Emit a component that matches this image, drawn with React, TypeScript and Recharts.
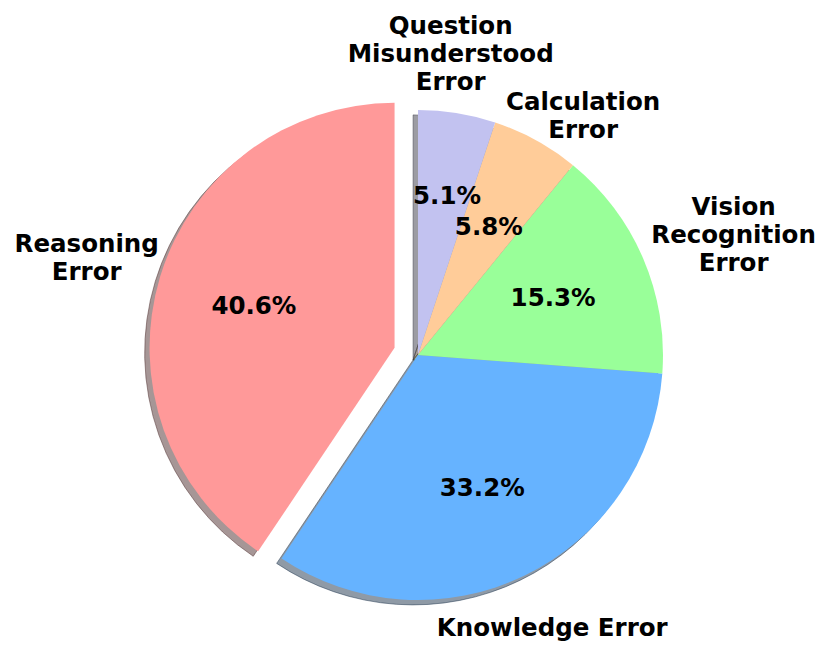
import React from 'react';
import { PieChart, Pie, Cell } from 'recharts';

// error categories, share of errors (%)
const CATEGORIES = [
  'Reasoning\nError',
  'Knowledge Error',
  'Vision\nRecognition\nError',
  'Calculation\nError',
  'Question\nMisunderstood\nError',
];
const SHARES = [40.6, 33.2, 15.3, 5.8, 5.1];
const COLORS = ['#ff9999', '#66b3ff', '#99ff99', '#ffcc99', '#c2c2f0'];
const EXPLODE = [0.1, 0, 0, 0, 0];

// label placement: distance (in radii) and angular nudge (deg)
const LABEL_DIST = [1.31, 1.24, 1.38, 1.19, 1.24];
const LABEL_SHIFT = [0.5, 0.3, -2.2, -5.7, 3.0];
const PCT_DIST = [0.6, 0.6, 0.6, 0.6, 0.664];
const PCT_SHIFT = [0, 0, 0, 0, -1.1];

const W = 831;
const H = 656;
const CX = 418;
const CY = 355;
const R = 245;
const START = 90;
const SHADOW = 0.02 * R;
const FONT = '"DejaVu Sans", sans-serif';
const FS = 24.5;
const RAD = Math.PI / 180;

const data = CATEGORIES.map((name, i) => ({ name, value: SHARES[i] }));
const total = SHARES.reduce((a, b) => a + b, 0);

// mid-angle of each wedge, used for the explode offset
const midAngles: number[] = [];
let acc = START;
SHARES.forEach((v) => {
  const sweep = (v / total) * 360;
  midAngles.push(acc + sweep / 2);
  acc += sweep;
});

const explodedIdx = EXPLODE.findIndex((e) => e > 0);
const exDx = EXPLODE[explodedIdx] * R * Math.cos(midAngles[explodedIdx] * RAD);
const exDy = -EXPLODE[explodedIdx] * R * Math.sin(midAngles[explodedIdx] * RAD);

const shade = (hex: string) => {
  const n = parseInt(hex.slice(1), 16);
  const r = Math.round(((n >> 16) & 255) * 0.3);
  const g = Math.round(((n >> 8) & 255) * 0.3);
  const b = Math.round((n & 255) * 0.3);
  return `rgb(${r},${g},${b})`;
};

const makeLabel = (onlyExploded: boolean) => (props: any) => {
  const { cx, cy, midAngle, outerRadius, index, percent } = props;
  if ((index === explodedIdx) !== onlyExploded) return null;
  const a = (midAngle + LABEL_SHIFT[index]) * RAD;
  const d = LABEL_DIST[index] * outerRadius;
  const lx = cx + d * Math.cos(a);
  const ly = cy - d * Math.sin(a);
  const lines = CATEGORIES[index].split('\n');
  const lh = 28;
  const half = (FS * 0.729) / 2;
  const firstY = ly - ((lines.length - 1) * lh) / 2 + half;

  const pa = (midAngle + PCT_SHIFT[index]) * RAD;
  const pd = PCT_DIST[index] * outerRadius;
  const px = cx + pd * Math.cos(pa);
  const py = cy - pd * Math.sin(pa);

  return (
    <g key={'lbl-' + index}>
      <text x={lx} y={firstY} textAnchor="middle" fontFamily={FONT} fontWeight="bold" fontSize={FS} fill="#000">
        {lines.map((l, i) => (
          <tspan key={i} x={lx} y={firstY + i * lh}>
            {l}
          </tspan>
        ))}
      </text>
      <text x={px} y={py + half} textAnchor="middle" fontFamily={FONT} fontWeight="bold" fontSize={FS} fill="#000">
        {(percent * 100).toFixed(1)}%
      </text>
    </g>
  );
};

export default function App() {
  return (
    <div style={{ position: 'absolute', left: 0, top: 0, width: W, height: H, background: '#fff' }}>
      <PieChart width={W} height={H} margin={{ top: 0, right: 0, bottom: 0, left: 0 }}>
        {/* shadows */}
        <Pie
          data={data}
          dataKey="value"
          cx={CX - SHADOW}
          cy={CY + SHADOW}
          outerRadius={R}
          startAngle={START}
          endAngle={START + 360}
          stroke="none"
          isAnimationActive={false}
          label={false}
        >
          {data.map((d, i) => (
            <Cell
              key={'s-' + i}
              fill={i === explodedIdx ? 'none' : shade(COLORS[i])}
              fillOpacity={0.5}
              stroke={i === explodedIdx ? 'none' : shade(COLORS[i])}
              strokeOpacity={0.5}
              strokeWidth={1}
            />
          ))}
        </Pie>
        <Pie
          data={data}
          dataKey="value"
          cx={CX + exDx - SHADOW}
          cy={CY + exDy + SHADOW}
          outerRadius={R}
          startAngle={START}
          endAngle={START + 360}
          stroke="none"
          isAnimationActive={false}
          label={false}
        >
          {data.map((d, i) => (
            <Cell
              key={'se-' + i}
              fill={i === explodedIdx ? shade(COLORS[i]) : 'none'}
              fillOpacity={0.5}
              stroke={i === explodedIdx ? shade(COLORS[i]) : 'none'}
              strokeOpacity={0.5}
              strokeWidth={1}
            />
          ))}
        </Pie>
        {/* wedges */}
        <Pie
          data={data}
          dataKey="value"
          cx={CX}
          cy={CY}
          outerRadius={R}
          startAngle={START}
          endAngle={START + 360}
          stroke="none"
          isAnimationActive={false}
          labelLine={false}
          label={makeLabel(false)}
        >
          {data.map((d, i) => (
            <Cell key={'w-' + i} fill={i === explodedIdx ? 'none' : COLORS[i]} />
          ))}
        </Pie>
        <Pie
          data={data}
          dataKey="value"
          cx={CX + exDx}
          cy={CY + exDy}
          outerRadius={R}
          startAngle={START}
          endAngle={START + 360}
          stroke="none"
          isAnimationActive={false}
          labelLine={false}
          label={makeLabel(true)}
        >
          {data.map((d, i) => (
            <Cell key={'we-' + i} fill={i === explodedIdx ? COLORS[i] : 'none'} />
          ))}
        </Pie>
      </PieChart>
    </div>
  );
}
